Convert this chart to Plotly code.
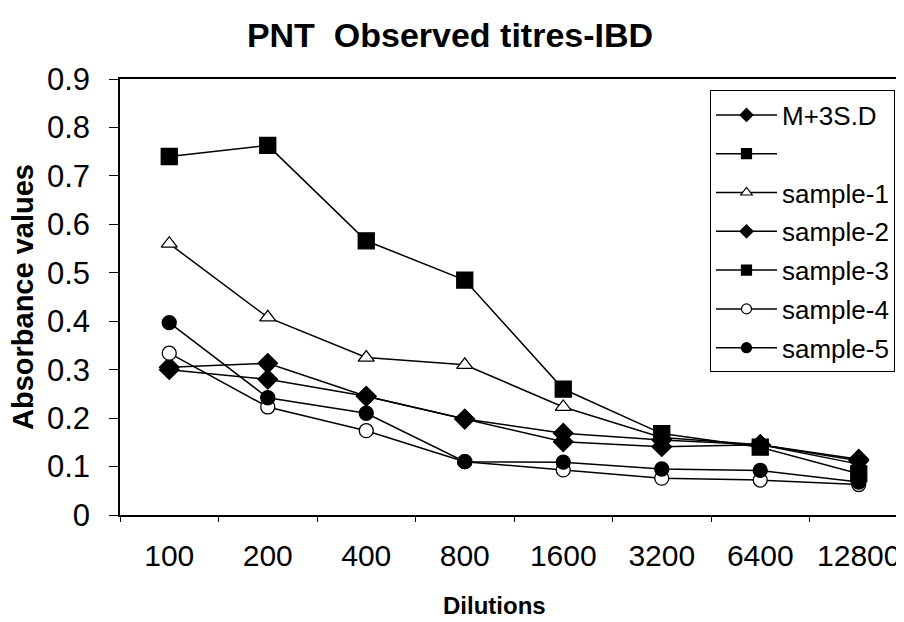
import plotly.graph_objects as go

dilutions = ["100", "200", "400", "800", "1600", "3200", "6400", "12800"]

m3sd = [0.305, 0.313, 0.245, 0.198, 0.169, 0.155, 0.145, 0.115]
unnamed = [None, None, None, None, None, None, None, None]
sample1 = [0.560, 0.408, 0.325, 0.310, 0.223, 0.160, 0.145, 0.105]
sample2 = [0.300, 0.280, 0.245, 0.198, 0.151, 0.141, 0.145, 0.112]
sample3 = [0.740, 0.763, 0.566, 0.485, 0.260, 0.168, 0.140, 0.085]
sample4 = [0.334, 0.223, 0.174, 0.110, 0.093, 0.076, 0.072, 0.063]
sample5 = [0.397, 0.242, 0.210, 0.110, 0.109, 0.095, 0.092, 0.068]

series = [
    ("M+3S.D", m3sd, "diamond", "black", 15),
    ("", unnamed, "square", "black", 16),
    ("sample-1", sample1, "triangle-up", "white", 14),
    ("sample-2", sample2, "diamond", "black", 15),
    ("sample-3", sample3, "square", "black", 16),
    ("sample-4", sample4, "circle", "white", 14),
    ("sample-5", sample5, "circle", "black", 14),
]

FONT = "Liberation Sans, Arial, sans-serif"

fig = go.Figure()
for i, (name, vals, sym, fill, size) in enumerate(series):
    fig.add_trace(go.Scatter(
        x=dilutions, y=vals, name=name if name else " ",
        mode="lines+markers", showlegend=False,
        line=dict(color="black", width=1.5),
        marker=dict(symbol=sym, size=size, color=fill,
                    line=dict(color="black", width=1.3)),
    ))
# legend entries (small symbols as in the reference legend)
for i, (name, vals, sym, fill, size) in enumerate(series):
    fig.add_trace(go.Scatter(
        x=[None], y=[None], name=name if name else " ",
        mode="lines+markers", legendgroup=f"g{i}", showlegend=True,
        line=dict(color="black", width=1.5),
        marker=dict(symbol=sym, size=10, color=fill,
                    line=dict(color="black", width=1.2)),
    ))

fig.update_layout(
    width=904, height=622,
    paper_bgcolor="white", plot_bgcolor="white",
    margin=dict(l=112, r=4, t=70.5, b=115, autoexpand=False),
    font=dict(family=FONT, color="black"),
    title=dict(text="<b>PNT  Observed titres-IBD</b>", x=442/904, xref="container",
               y=1-27/622, yref="container", xanchor="center", yanchor="middle",
               font=dict(size=34, family=FONT)),
    showlegend=True,
    legend=dict(x=(702-112)/788, y=(507-82)/436.5, xref="paper", yref="paper",
                xanchor="left", yanchor="top",
                bgcolor="white", bordercolor="black", borderwidth=1,
                font=dict(size=26, family=FONT),
                itemwidth=61, tracegroupgap=2),
)
fig.update_xaxes(
    type="category", range=[-0.5, 7.5], automargin=False,
    showline=True, linecolor="black", linewidth=1.5, mirror=True,
    ticks="outside", tickson="boundaries", ticklen=5, tickcolor="black",
    tickfont=dict(size=30, family=FONT), showgrid=False, zeroline=False,
    ticklabelstandoff=13,
)
fig.update_yaxes(
    range=[0, 0.9], automargin=False,
    tickvals=[0, 0.1, 0.2, 0.3, 0.4, 0.5, 0.6, 0.7, 0.8, 0.9],
    ticktext=["0", "0.1", "0.2", "0.3", "0.4", "0.5", "0.6", "0.7", "0.8", "0.9"],
    showline=True, linecolor="black", linewidth=1.5,
    ticks="outside", ticklen=9, tickcolor="black",
    tickfont=dict(size=31, family=FONT), showgrid=False, zeroline=False,
    ticklabelstandoff=13,
)
fig.add_annotation(text="<b>Absorbance values</b>", xref="paper", yref="paper",
                   x=(15-112)/788, y=0.5, textangle=-90, showarrow=False,
                   xanchor="center", yanchor="middle", font=dict(size=29, family=FONT))
fig.add_annotation(text="<b>Dilutions</b>", xref="paper", yref="paper",
                   x=(486-112)/788, y=-(598-507)/436.5, showarrow=False,
                   xanchor="center", yanchor="middle", font=dict(size=24, family=FONT))

fig.write_html("out.html")
